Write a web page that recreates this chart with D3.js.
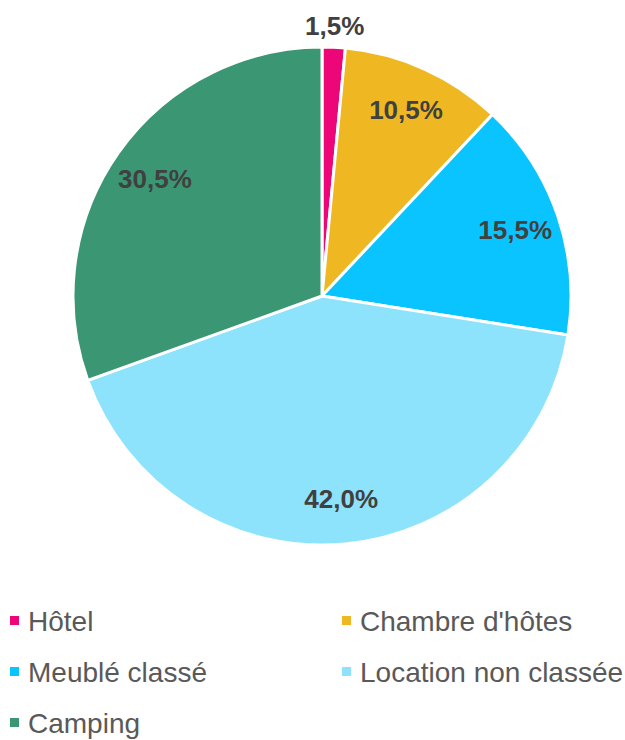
<!DOCTYPE html>
<html>
<head>
<meta charset="utf-8">
<script src="https://cdn.jsdelivr.net/npm/d3@7"></script>
<style>
  body { margin: 0; background: #fff; }
  svg { display: block; font-family: "Liberation Sans", Arial, sans-serif; }
</style>
</head>
<body>
<svg width="625" height="740"></svg>
<script>
const categories = ["Hôtel", "Chambre d'hôtes", "Meublé classé", "Location non classée", "Camping"];
const values = [1.5, 10.5, 15.5, 42.0, 30.5];
const colors = ["#EC0677", "#EFB822", "#0AC4FF", "#8DE2FC", "#3A9673"];

const svg = d3.select("svg");
const cx = 322, cy = 296, radius = 249;

const pie = d3.pie().sort(null).value(d => d.value);
const data = categories.map((c, i) => ({ name: c, value: values[i], color: colors[i] }));
const arcs = pie(data);

const arc = d3.arc().innerRadius(0).outerRadius(radius);
const labelArc = d3.arc().innerRadius(radius * 0.82).outerRadius(radius * 0.82);
const outerArc = d3.arc().innerRadius(radius + 21).outerRadius(radius + 21);

const g = svg.append("g").attr("transform", `translate(${cx},${cy})`);

g.selectAll("path")
  .data(arcs)
  .enter()
  .append("path")
  .attr("d", arc)
  .attr("fill", d => d.data.color)
  .attr("stroke", "#fff")
  .attr("stroke-width", 3)
  .attr("stroke-linejoin", "round");

const fmt = v => v.toFixed(1).replace(".", ",") + "%";

g.selectAll(".lbl")
  .data(arcs)
  .enter()
  .append("text")
  .attr("class", "lbl")
  .attr("transform", d => {
    const p = (d.endAngle - d.startAngle) < 0.2 ? outerArc.centroid(d) : labelArc.centroid(d);
    return `translate(${p[0]},${p[1]})`;
  })
  .attr("text-anchor", "middle")
  .attr("dy", "0.35em")
  .attr("font-size", 26)
  .attr("font-weight", "bold")
  .attr("fill", "#404040")
  .text(d => fmt(d.data.value));

// legend, 2 columns
const legend = svg.append("g");
const item = legend.selectAll(".leg")
  .data(data)
  .enter()
  .append("g")
  .attr("class", "leg")
  .attr("transform", (d, i) => `translate(${i % 2 === 0 ? 10 : 342},${621 + Math.floor(i / 2) * 51})`);

item.append("rect")
  .attr("x", 0).attr("y", -5)
  .attr("width", 9).attr("height", 9)
  .attr("fill", d => d.color);

item.append("text")
  .attr("x", 18)
  .attr("dy", "0.35em")
  .attr("font-size", 28)
  .attr("fill", "#595959")
  .text(d => d.name);
</script>
</body>
</html>
